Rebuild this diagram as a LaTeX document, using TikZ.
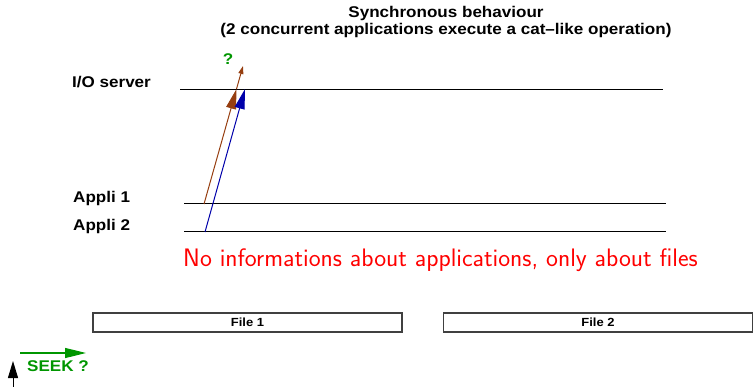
\documentclass[tikz,border=0pt]{standalone}
\usepackage{fontspec}
\usetikzlibrary{arrows.meta}
\newfontfamily\figfont[FakeStretch=1.1,Ligatures=TeX]{Liberation Sans}
\definecolor{figbrown}{RGB}{150,62,16}
\definecolor{figblue}{RGB}{0,0,170}
\definecolor{figgreen}{RGB}{0,150,0}
\definecolor{figred}{RGB}{255,0,0}

\tikzset{
  lbl/.style={inner sep=0pt, font=\figfont\bfseries\fontsize{15.5}{18}\selectfont},
  timeline/.style={line width=1pt, black},
  filebox/.style={draw=black!75, line width=1.4pt, minimum width=309pt,
    minimum height=19pt, inner sep=0pt,
    font=\figfont\bfseries\fontsize{11.8}{13}\selectfont},
  bighead/.style={-{Triangle[length=20pt,width=10pt]}},
  smallhead/.style={-{Triangle[length=8pt,width=5pt]}}
}

\begin{document}
\begin{tikzpicture}[x=1pt,y=-1pt]
\useasboundingbox (0,0) rectangle (754,387);

% Title
\node[lbl, anchor=base] (title1) at (446,18) {Synchronous behaviour};
\node[lbl, anchor=base] (title2) at (446,35) {(2 concurrent applications execute a cat--like operation)};

% Time lines
\node[lbl, anchor=base west] (io) at (72,88) {I/O server};
\node[lbl, anchor=base west] (app1) at (73,203) {Appli 1};
\node[lbl, anchor=base west] (app2) at (73,231) {Appli 2};
\coordinate (io-w) at (180,90);   \coordinate (io-e) at (663,90);
\coordinate (app1-w) at (184,204); \coordinate (app1-e) at (666,204);
\coordinate (app2-w) at (184,232); \coordinate (app2-e) at (666,232);
\draw[timeline] (io-w) -- (io-e);
\draw[timeline] (app1-w) -- (app1-e);
\draw[timeline] (app2-w) -- (app2-e);

% Requests
\coordinate (b0) at (204,204);
\coordinate (b1) at (236.5,89);
\coordinate (b2) at (243,66);
\coordinate (u0) at (205,232);
\coordinate (u1) at (245,89);
\draw[figbrown, line width=1pt, bighead] (b0) -- (b1);
\draw[figbrown, line width=1pt, smallhead] (b1) -- (b2);
\draw[figblue, line width=1pt, bighead] (u0) -- (u1);
\node[lbl, text=figgreen, anchor=base] (ask) at (228,65) {?};

% Remark
\node[inner sep=0pt, anchor=base, text=figred, font=\sffamily\fontsize{25.3}{30}\selectfont]
  (remark) at (440.5,266) {No informations about applications, only about files};

% Files
\node[filebox] (file1) at (247.5,322.5) {File 1};
\node[filebox] (file2) at (598,322.5) {File 2};

% Seek
\coordinate (up0) at (13,387);
\coordinate (up1) at (13,361);
\draw[black, line width=1pt, -{Triangle[length=17pt,width=10pt]}] (up0) -- (up1);
\coordinate (sk0) at (20,353);
\coordinate (sk1) at (86,353);
\draw[figgreen, line width=1.2pt, -{Triangle[length=21pt,width=10pt]}] (sk0) -- (sk1);
\node[lbl, text=figgreen, anchor=base west] (seek) at (27,371) {SEEK ?};
\end{tikzpicture}
\end{document}
